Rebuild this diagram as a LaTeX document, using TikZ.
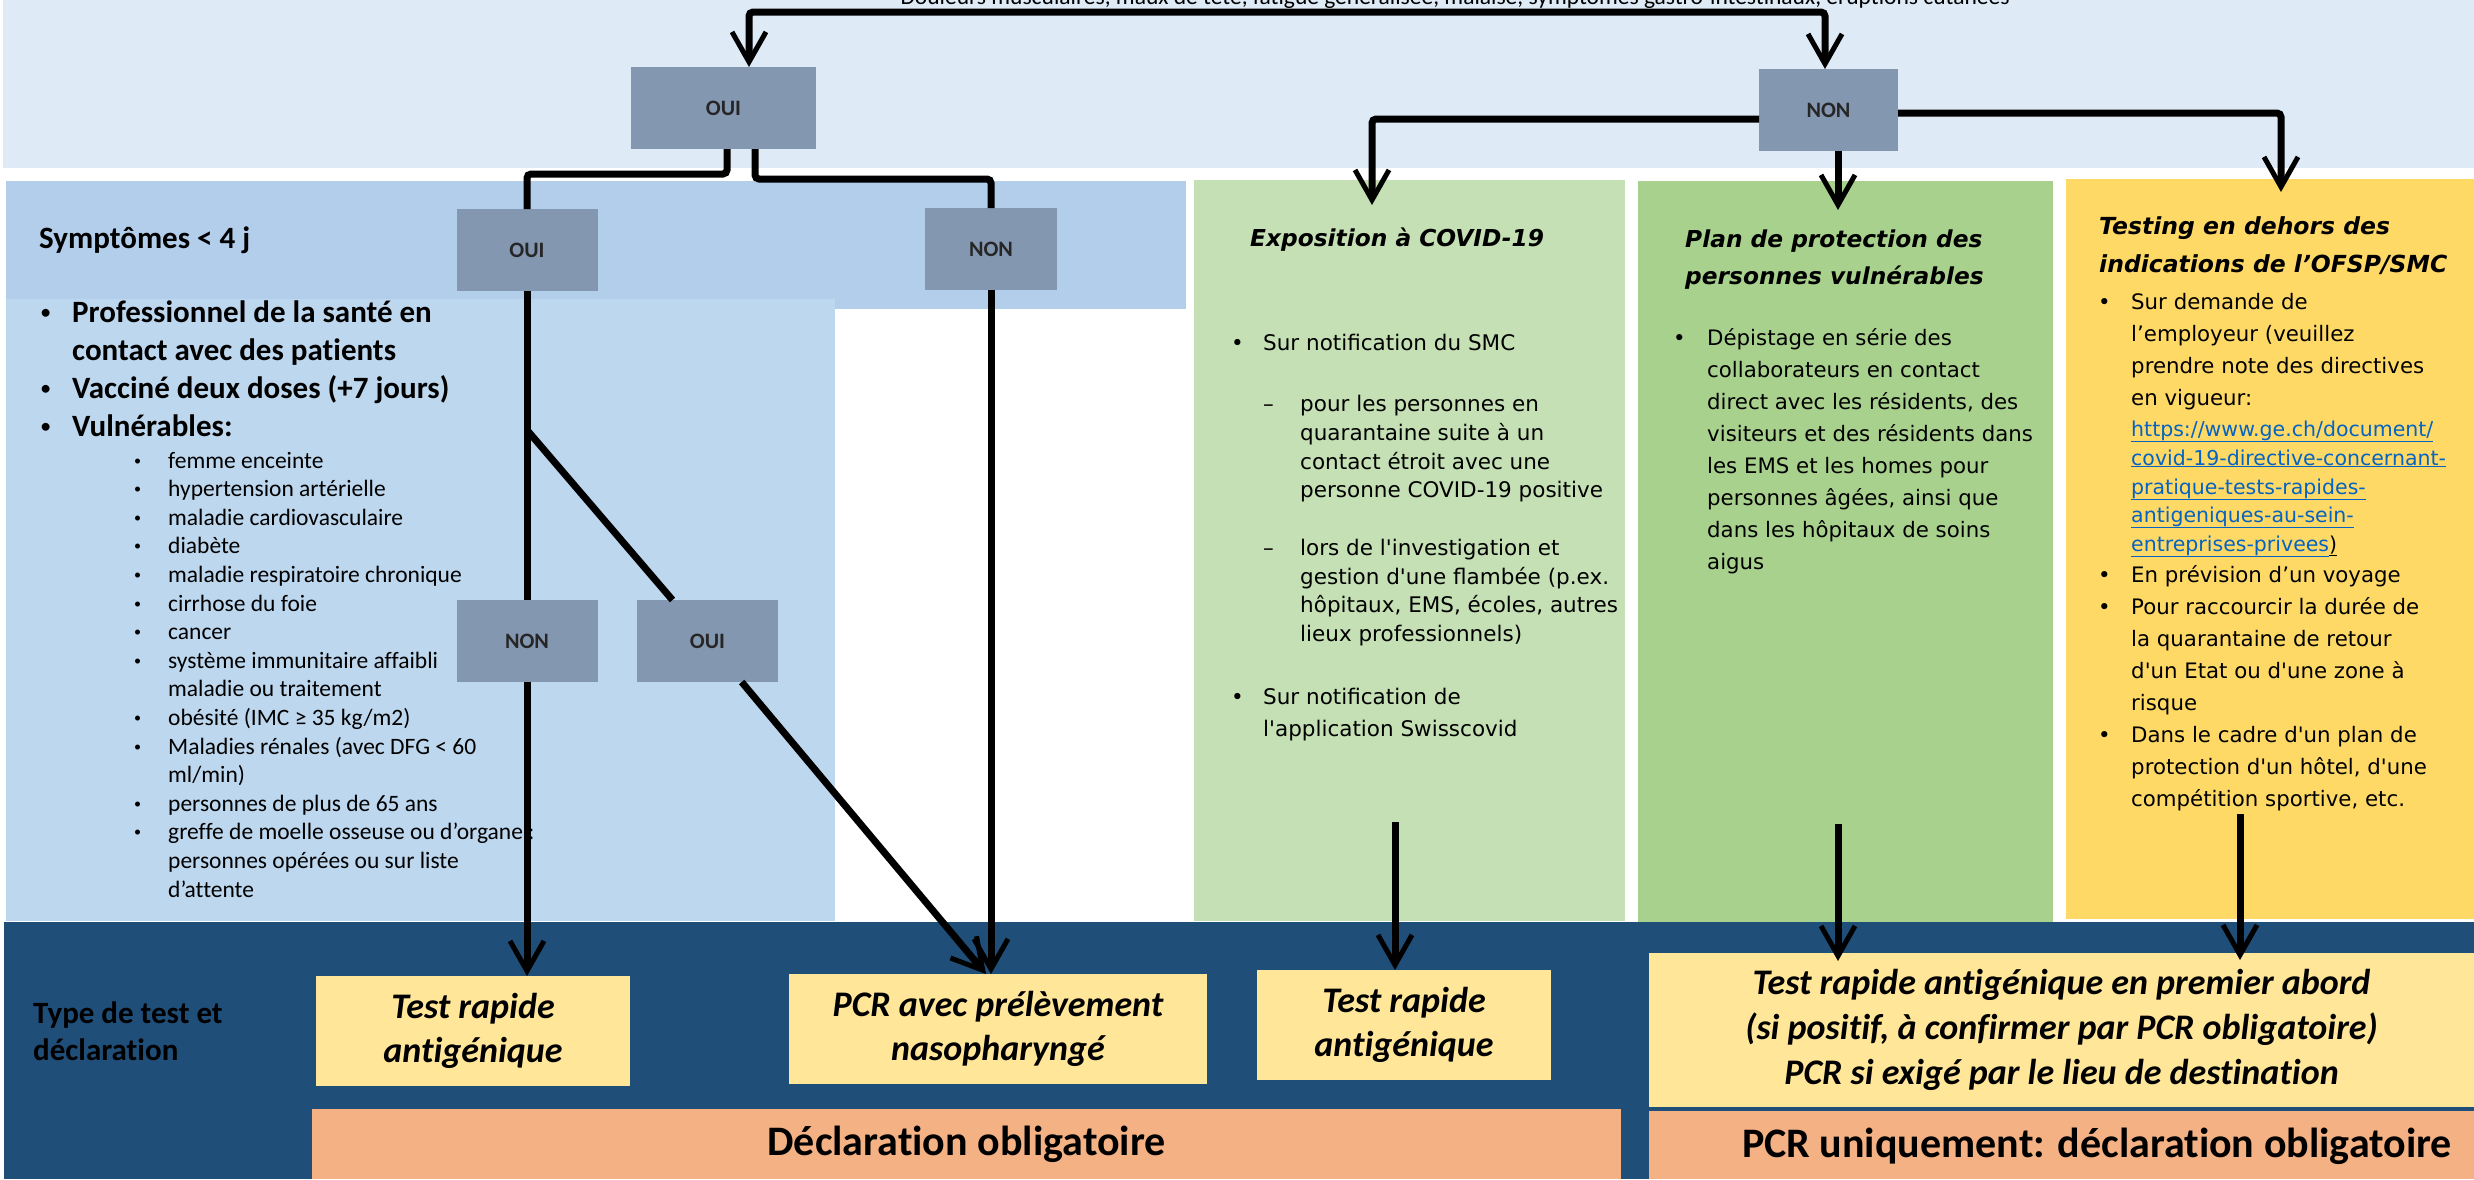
\documentclass[tikz,border=0pt]{standalone}
\usepackage{graphicx}
\usepackage{fontspec}
\setmainfont{Carlito}[Ligatures={TeX,NoCommon}]
\newfontfamily\verd{DejaVu Sans}
\usetikzlibrary{arrows.meta}
\definecolor{bandblue}{HTML}{DEEBF7}
\definecolor{symblue}{HTML}{B2CEEA}
\definecolor{listblue}{HTML}{BDD7EE}
\definecolor{choicegrey}{HTML}{8497B0}
\definecolor{expogreen}{HTML}{C5E0B4}
\definecolor{plangreen}{HTML}{A9D18E}
\definecolor{testyellow}{HTML}{FFD966}
\definecolor{resultyellow}{HTML}{FFE699}
\definecolor{declorange}{HTML}{F4B183}
\definecolor{basenavy}{HTML}{1F4E79}
\definecolor{linkblue}{HTML}{0563C1}
\newcommand{\bul}[1]{\makebox[#1][l]{\textbullet}}
\newcommand{\cbul}[1]{\makebox[#1][l]{\raisebox{0.12em}{\scalebox{0.6}{\textbullet}}}}
\newcommand{\lnk}[1]{\textcolor{linkblue}{\underline{#1}}}

\begin{document}
\begin{tikzpicture}[x=1pt,y=-1pt,
  box/.style={rectangle,inner sep=0pt,outer sep=0pt},
  choice/.style={box,fill=choicegrey,minimum width=141pt,minimum height=82pt,font=\fontsize{22}{26}\selectfont\bfseries,text=black!85},
  result/.style={box,fill=resultyellow,minimum height=110pt,align=center,font=\fontsize{36}{44}\selectfont\bfseries\itshape},
  txt/.style={anchor=base west,inner sep=0pt},
  wire/.style={line width=7pt,rounded corners=4pt},
  arr/.style={wire,-{Straight Barb[length=30pt,width=34pt,line width=5pt]}}]
\useasboundingbox (0,0) rectangle (2474,1179);
\fill[bandblue] (3,0) rectangle (2474,168);
\node[anchor=base,inner sep=0pt,font=\fontsize{23.5}{28}\selectfont] (signs) at (1455,4) {Douleurs musculaires, maux de tête, fatigue généralisée, malaise, symptômes gastro-intestinaux, éruptions cutanées};

\node[box,fill=symblue,minimum width=1180pt,minimum height=128pt] (sym) at (596,245) {};
\node[box,fill=listblue,minimum width=829pt,minimum height=622pt] (vuln) at (420.5,610) {};
\node[box,fill=expogreen,minimum width=431pt,minimum height=741pt] (expo) at (1409.5,550.5) {};
\node[box,fill=plangreen,minimum width=415pt,minimum height=743pt] (plan) at (1845.5,552.5) {};
\node[box,fill=testyellow,minimum width=408pt,minimum height=740pt] (testing) at (2270,549) {};
\fill[basenavy] (4,922) rectangle (2474,1179);

\node[result,minimum width=314pt] (test1) at (473,1031) {Test rapide\\antigénique};
\node[result,minimum width=418pt] (pcr) at (998,1029) {PCR avec prélèvement\\nasopharyngé};
\node[result,minimum width=294pt] (rat2) at (1404,1025) {Test rapide\\antigénique};
\node[result,minimum width=825pt,minimum height=154pt,font=\fontsize{36}{45}\selectfont\bfseries\itshape] (combo) at (2061.5,1030) {Test rapide antigénique en premier abord\\(si positif, à confirmer par PCR obligatoire)\\PCR si exigé par le lieu de destination};
\node[box,fill=declorange,minimum width=1309pt,minimum height=70pt,font=\fontsize{42}{50}\selectfont\bfseries] (decl) at (966.5,1144) {Déclaration obligatoire};
\node[box,fill=declorange,minimum width=825pt,minimum height=68pt] (pcronly) at (2061.5,1145) {};
\node[inner sep=0pt,font=\fontsize{42}{50}\selectfont\bfseries] (pcronlytxt) at (2097,1146) {PCR uniquement: déclaration obligatoire};
\node[txt,font=\fontsize{31}{37}\selectfont\bfseries] (kind) at (33,1023) {\parbox[t]{250pt}{Type de test et\\déclaration}};

\node[txt,font=\fontsize{31}{38}\selectfont\bfseries] (symtitle) at (39,248) {Symptômes < 4 j};
\node[txt,font=\fontsize{31}{38}\selectfont\bfseries] (groups) at (41,322) {\parbox[t]{700pt}{\raggedright
\cbul{31pt}Professionnel de la santé en\\
\hspace*{31pt}contact avec des patients\\
\cbul{31pt}Vacciné deux doses (+7 jours)\\
\cbul{31pt}Vulnérables:}};
\node[txt,font=\fontsize{23.5}{28.6}\selectfont] (risks) at (134,468) {\parbox[t]{600pt}{\raggedright
\cbul{34pt}femme enceinte\\
\cbul{34pt}hypertension artérielle\\
\cbul{34pt}maladie cardiovasculaire\\
\cbul{34pt}diabète\\
\cbul{34pt}maladie respiratoire chronique\\
\cbul{34pt}cirrhose du foie\\
\cbul{34pt}cancer\\
\cbul{34pt}système immunitaire affaibli\\
\hspace*{34pt}maladie ou traitement\\
\cbul{34pt}obésité (IMC ≥ 35 kg/m2)\\
\cbul{34pt}Maladies rénales (avec DFG < 60\\
\hspace*{34pt}ml/min)\\
\cbul{34pt}personnes de plus de 65 ans\\
\cbul{34pt}greffe de moelle osseuse ou d’organe :\\
\hspace*{34pt}personnes opérées ou sur liste\\
\hspace*{34pt}d'attente}};

\node[txt,font=\verd\bfseries\itshape\fontsize{23.3}{36}\selectfont] (expotitle) at (1250,246) {Exposition à COVID-19};
\node[txt,font=\verd\fontsize{21.5}{28.7}\selectfont] (expolist) at (1231,350) {\parbox[t]{390pt}{\raggedright
\bul{32pt}Sur notification du SMC\\[33pt]
\hspace*{32pt}\makebox[37pt][l]{–}pour les personnes en\\
\hspace*{69pt}quarantaine suite à un\\
\hspace*{69pt}contact étroit avec une\\
\hspace*{69pt}personne COVID-19 positive\\[29pt]
\hspace*{32pt}\makebox[37pt][l]{–}lors de l'investigation et\\
\hspace*{69pt}gestion d'une flambée (p.ex.\\
\hspace*{69pt}hôpitaux, EMS, écoles, autres\\
\hspace*{69pt}lieux professionnels)\\[34pt]
\bul{32pt}Sur notification de\\[3pt]
\hspace*{32pt}l'application Swisscovid}};

\node[txt,font=\verd\bfseries\itshape\fontsize{23.3}{37}\selectfont] (plantitle) at (1685,247) {\parbox[t]{360pt}{Plan de protection des\\personnes vulnérables}};
\node[txt,font=\verd\fontsize{21.3}{32}\selectfont] (planlist) at (1673,345) {\parbox[t]{380pt}{\raggedright
\bul{34pt}Dépistage en série des\\
\hspace*{34pt}collaborateurs en contact\\
\hspace*{34pt}direct avec les résidents, des\\
\hspace*{34pt}visiteurs et des résidents dans\\
\hspace*{34pt}les EMS et les homes pour\\
\hspace*{34pt}personnes âgées, ainsi que\\
\hspace*{34pt}dans les hôpitaux de soins\\
\hspace*{34pt}aigus}};

\node[txt,font=\verd\bfseries\itshape\fontsize{23.5}{38}\selectfont] (testtitle) at (2099,234) {\parbox[t]{370pt}{Testing en dehors des\\indications de l’OFSP/SMC}};
\node[txt,font=\verd\fontsize{21.3}{32}\selectfont] (testlist) at (2098,309) {\parbox[t]{370pt}{\raggedright
\bul{33pt}Sur demande de\\
\hspace*{33pt}l’employeur (veuillez\\
\hspace*{33pt}prendre note des directives\\
\hspace*{33pt}en vigueur:\\[-1pt]
\hspace*{33pt}{\fontsize{20.5}{29}\selectfont\lnk{https://www.ge.ch/document/}}\\[-3pt]
\hspace*{33pt}{\fontsize{20.5}{29}\selectfont\lnk{covid-19-directive-concernant-}}\\[-3pt]
\hspace*{33pt}{\fontsize{20.5}{29}\selectfont\lnk{pratique-tests-rapides-}}\\[-4pt]
\hspace*{33pt}{\fontsize{20.5}{29}\selectfont\lnk{antigeniques-au-sein-}}\\[-3pt]
\hspace*{33pt}{\fontsize{20.5}{29}\selectfont\lnk{entreprises-privees}\underline{)}}\\[-1pt]
\bul{33pt}En prévision d’un voyage\\
\bul{33pt}Pour raccourcir la durée de\\
\hspace*{33pt}la quarantaine de retour\\
\hspace*{33pt}d'un Etat ou d'une zone à\\
\hspace*{33pt}risque\\
\bul{33pt}Dans le cadre d'un plan de\\
\hspace*{33pt}protection d'un hôtel, d'une\\
\hspace*{33pt}compétition sportive, etc.}};

\node[choice,minimum width=185pt] (oui1) at (723.5,108) {OUI};
\node[choice,minimum width=139pt] (non1) at (1828.5,110) {NON};
\node[choice] (oui2) at (527,250) {OUI};
\node[choice,minimum width=132pt] (non2) at (991,249) {NON};
\node[choice] (non3) at (527,641) {NON};
\node[choice] (oui3) at (707.5,641) {OUI};

\coordinate (fork) at (1290,12);
\draw[arr] (fork) -| ([xshift=25.5pt]oui1.north);
\draw[arr] (fork) -| ([xshift=-3.5pt]non1.north);
\draw[wire] ([xshift=3.5pt]oui1.south) -- ++(0,25) -| (oui2.north);
\draw[wire] ([xshift=31.5pt]oui1.south) -- ++(0,30) -| (non2.north);
\draw[arr] ([yshift=-9pt]non1.west) -| ([xshift=-37.5pt,yshift=-25pt]expo.north);
\draw[arr] ([xshift=9.5pt]non1.south) -- ([xshift=-7.5pt,yshift=-29pt]plan.north);
\draw[arr] ([yshift=-3pt]non1.east) -| ([xshift=11pt,yshift=-13pt]testing.north);
\draw[wire] (oui2) -- (non3);
\draw[arr] (non3) -- (non3 |- test1.north);
\coordinate (split) at (527,430);
\draw[wire] (split) -- (oui3);
\draw[arr] (oui3) -- ([xshift=-12pt]pcr.north);
\draw[arr] (non2) -- (non2 |- pcr.north);
\coordinate (expofoot) at (1395,822);
\draw[arr] (expofoot) -- (expofoot |- rat2.north);
\coordinate (planfoot) at (1838,824);
\draw[arr] (planfoot) -- ([yshift=-8pt]planfoot |- combo.north);
\coordinate (testfoot) at (2240,814);
\draw[arr] (testfoot) -- ([yshift=-7pt]testfoot |- combo.north);
\end{tikzpicture}
\end{document}
